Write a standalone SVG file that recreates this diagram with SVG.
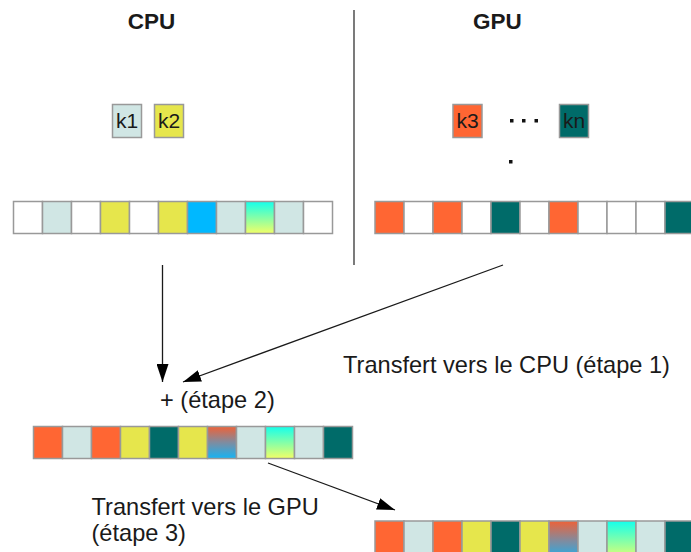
<svg xmlns="http://www.w3.org/2000/svg" width="691" height="552" viewBox="0 0 691 552">
<style>
.c{stroke:#999;stroke-width:1.5}
.w{fill:#fff}.g{fill:#d0e6e4}.y{fill:#e6e64c}.b{fill:#00b8ff}.o{fill:#ff6633}.t{fill:#006b69}
.gr{fill:url(#cy)}.mx{fill:url(#mix)}
.lbl{font-family:"Liberation Sans",Arial,sans-serif;font-size:23.6px;fill:#1a1a1a}
.ttl{font-family:"Liberation Sans",Arial,sans-serif;font-size:22.5px;font-weight:bold;fill:#1a1a1a}
.k{font-family:"Liberation Sans",Arial,sans-serif;font-size:21px;fill:#1a1a1a}
.ln{stroke:#1a1a1a;stroke-width:1.3;fill:none}
</style>
<defs>
<linearGradient id="cy" x1="0" y1="0" x2="0" y2="1">
<stop offset="0" stop-color="#14ffec"/><stop offset="1" stop-color="#f2ff66"/>
</linearGradient>
<linearGradient id="mix" x1="0" y1="0" x2="0" y2="1">
<stop offset="0" stop-color="#ee6238"/><stop offset="0.5" stop-color="#7f8ca0"/><stop offset="1" stop-color="#14b4f4"/>
</linearGradient>
<marker id="ah" markerUnits="userSpaceOnUse" markerWidth="18" markerHeight="12" refX="18" refY="6" orient="auto">
<path d="M0,0 L18,6 L0,12 z" fill="#000"/>
</marker>
</defs>

<g id="titles">
<text class="ttl" x="151.5" y="29" text-anchor="middle">CPU</text>
<text class="ttl" x="497.5" y="29" text-anchor="middle">GPU</text>
</g>
<line id="divider" x1="354" y1="10" x2="354" y2="265" stroke="#333" stroke-width="1.3"/>

<g id="k1"><rect class="c g" x="112.5" y="104.5" width="29" height="33"/><text class="k" x="127" y="128" text-anchor="middle">k1</text></g>
<g id="k2"><rect class="c y" x="154.5" y="104.5" width="29" height="33"/><text class="k" x="169" y="128" text-anchor="middle">k2</text></g>
<g id="k3"><rect class="c o" x="453" y="104.5" width="29" height="33"/><text class="k" x="467.5" y="128" text-anchor="middle">k3</text></g>
<g id="kn"><rect class="c t" x="559.5" y="104.5" width="29" height="33"/><text class="k" x="574" y="128" text-anchor="middle">kn</text></g>
<g id="dots" fill="#111">
<rect x="510" y="119" width="3.5" height="3.5"/><rect x="522" y="119" width="3.5" height="3.5"/><rect x="534.5" y="119" width="3.5" height="3.5"/><rect x="509" y="160" width="3.5" height="3.5"/>
</g>

<g id="cpu-array">
<rect class="c w" x="13.5" y="201.5" width="29" height="32"/>
<rect class="c g" x="42.5" y="201.5" width="29" height="32"/>
<rect class="c w" x="71.5" y="201.5" width="29" height="32"/>
<rect class="c y" x="100.5" y="201.5" width="29" height="32"/>
<rect class="c w" x="129.5" y="201.5" width="29" height="32"/>
<rect class="c y" x="158.5" y="201.5" width="29" height="32"/>
<rect class="c b" x="187.5" y="201.5" width="29" height="32"/>
<rect class="c g" x="216.5" y="201.5" width="29" height="32"/>
<rect class="c gr" x="245.5" y="201.5" width="29" height="32"/>
<rect class="c g" x="274.5" y="201.5" width="29" height="32"/>
<rect class="c w" x="303.5" y="201.5" width="29" height="32"/>
</g>

<g id="gpu-array">
<rect class="c o" x="375" y="201.5" width="29" height="32"/>
<rect class="c w" x="404" y="201.5" width="29" height="32"/>
<rect class="c o" x="433" y="201.5" width="29" height="32"/>
<rect class="c w" x="462" y="201.5" width="29" height="32"/>
<rect class="c t" x="491" y="201.5" width="29" height="32"/>
<rect class="c w" x="520" y="201.5" width="29" height="32"/>
<rect class="c o" x="549" y="201.5" width="29" height="32"/>
<rect class="c w" x="578" y="201.5" width="29" height="32"/>
<rect class="c w" x="607" y="201.5" width="29" height="32"/>
<rect class="c w" x="636" y="201.5" width="29" height="32"/>
<rect class="c t" x="665" y="201.5" width="29" height="32"/>
</g>

<g id="merged-array">
<rect class="c o" x="33.5" y="426.5" width="29" height="32"/>
<rect class="c g" x="62.5" y="426.5" width="29" height="32"/>
<rect class="c o" x="91.5" y="426.5" width="29" height="32"/>
<rect class="c y" x="120.5" y="426.5" width="29" height="32"/>
<rect class="c t" x="149.5" y="426.5" width="29" height="32"/>
<rect class="c y" x="178.5" y="426.5" width="29" height="32"/>
<rect class="c mx" x="207.5" y="426.5" width="29" height="32"/>
<rect class="c g" x="236.5" y="426.5" width="29" height="32"/>
<rect class="c gr" x="265.5" y="426.5" width="29" height="32"/>
<rect class="c g" x="294.5" y="426.5" width="29" height="32"/>
<rect class="c t" x="323.5" y="426.5" width="29" height="32"/>
</g>

<g id="gpu-final-array">
<rect class="c o" x="375" y="521" width="29" height="40"/>
<rect class="c g" x="404" y="521" width="29" height="40"/>
<rect class="c o" x="433" y="521" width="29" height="40"/>
<rect class="c y" x="462" y="521" width="29" height="40"/>
<rect class="c t" x="491" y="521" width="29" height="40"/>
<rect class="c y" x="520" y="521" width="29" height="40"/>
<rect class="c mx" x="549" y="521" width="29" height="40"/>
<rect class="c g" x="578" y="521" width="29" height="40"/>
<rect class="c gr" x="607" y="521" width="29" height="40"/>
<rect class="c g" x="636" y="521" width="29" height="40"/>
<rect class="c t" x="665" y="521" width="29" height="40"/>
</g>

<g id="connectors">
<line class="ln" x1="162.5" y1="265" x2="162.5" y2="382" marker-end="url(#ah)"/>
<line class="ln" x1="503" y1="265" x2="183" y2="382" marker-end="url(#ah)"/>
<line class="ln" x1="268" y1="463" x2="395" y2="510" marker-end="url(#ah)"/>
</g>

<g id="labels">
<text class="lbl" x="343" y="372.5">Transfert vers le CPU (étape 1)</text>
<text class="lbl" x="160" y="408">+ (étape 2)</text>
<text class="lbl" x="91.5" y="515">Transfert vers le GPU</text>
<text class="lbl" x="91.5" y="541">(étape 3)</text>
</g>
</svg>
